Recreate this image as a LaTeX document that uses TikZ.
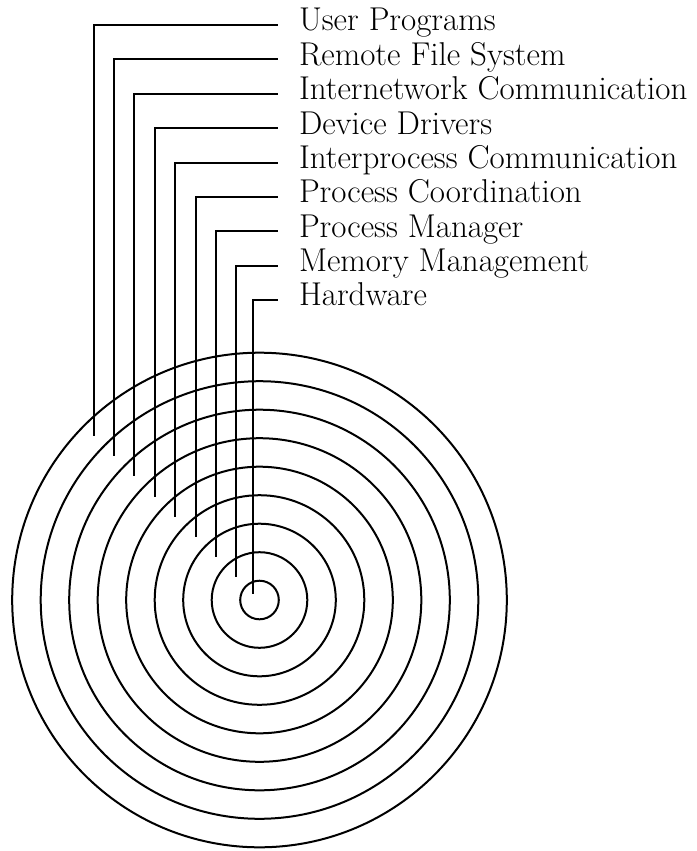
\documentclass[tikz,border=0pt]{standalone}
\usepackage{tikz}

\begin{document}
\begin{tikzpicture}[x=0.5pt, y=-0.5pt, line width=1pt,
layer/.style={anchor=mid west, inner xsep=10.5pt, inner ysep=0pt, yshift=-0.8pt, font=\fontsize{16.5}{19}\selectfont},
wire/.style={line width=1pt, line cap=rect}]
\useasboundingbox (0,0) rectangle (696,851);
% layer names
\node[layer] (user)  at (277,25)    {User Programs};
\node[layer] (rfs)   at (277,59.4)  {Remote File System};
\node[layer] (inet)  at (277,93.7)  {Internetwork Communication};
\node[layer] (dev)   at (277,128.1) {Device Drivers};
\node[layer] (ipc)   at (277,162.5) {Interprocess Communication};
\node[layer] (coord) at (277,196.9) {Process Coordination};
\node[layer] (pm)    at (277,231.2) {Process Manager};
\node[layer] (mem)   at (277,265.6) {Memory Management};
\node[layer] (hw)    at (277,300)   {Hardware};
% rings
\coordinate (c) at (259.5,600);
\draw (c) circle (19.3) (c) circle (47.8) (c) circle (76.3) (c) circle (104.8)
      (c) circle (133.3) (c) circle (161.8) (c) circle (190.3) (c) circle (218.8)
      (c) circle (247.3);
% lead ends
\coordinate (e1) at (93.5,435);
\coordinate (e2) at (113.9,455.2);
\coordinate (e3) at (134.3,475.4);
\coordinate (e4) at (154.7,495.6);
\coordinate (e5) at (175.1,515.8);
\coordinate (e6) at (195.5,536);
\coordinate (e7) at (215.9,556.2);
\coordinate (e8) at (236.3,576.4);
\coordinate (e9) at (252.5,593);
\draw[wire] ([yshift=0.8pt]user.mid west) -| (e1);
\draw[wire] ([yshift=0.8pt]rfs.mid west) -| (e2);
\draw[wire] ([yshift=0.8pt]inet.mid west) -| (e3);
\draw[wire] ([yshift=0.8pt]dev.mid west) -| (e4);
\draw[wire] ([yshift=0.8pt]ipc.mid west) -| (e5);
\draw[wire] ([yshift=0.8pt]coord.mid west) -| (e6);
\draw[wire] ([yshift=0.8pt]pm.mid west) -| (e7);
\draw[wire] ([yshift=0.8pt]mem.mid west) -| (e8);
\draw[wire] ([yshift=0.8pt]hw.mid west) -| (e9);
\end{tikzpicture}
\end{document}
